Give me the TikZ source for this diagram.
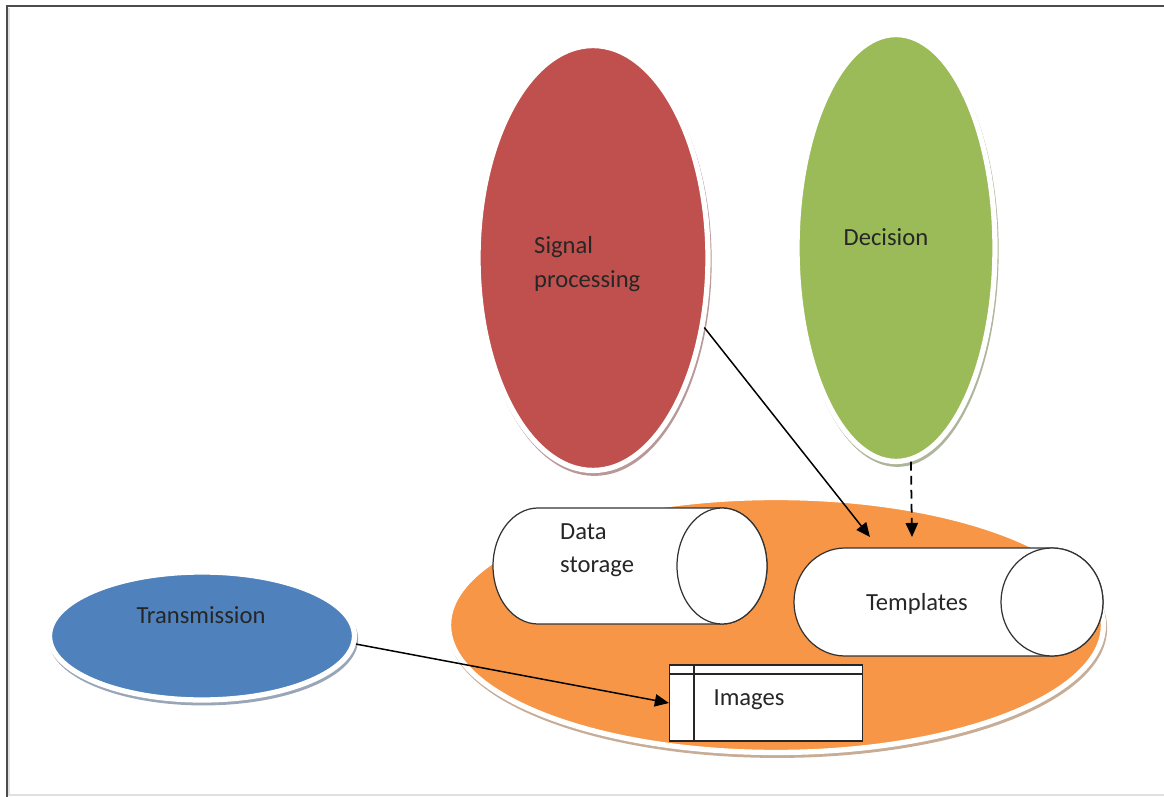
\documentclass[tikz,border=0pt]{standalone}
\usepackage{fontspec}
\setmainfont{Carlito}
\usepackage{tikz}
\usetikzlibrary{shapes.geometric,arrows.meta}
\definecolor{sigred}{HTML}{C0504D}
\definecolor{decgreen}{HTML}{9BBB59}
\definecolor{baseorange}{HTML}{F79646}
\definecolor{transblue}{HTML}{4F81BD}

\begin{document}
\begin{tikzpicture}[x=0.02cm,y=-0.02cm,
  blob/.style={ellipse,inner sep=0pt,fill=#1,draw=white,line width=3pt,
    preaction={draw=#1!40!gray!70,line width=2.6pt,transform canvas={shift={(0.8pt,-1.8pt)}}}},
  drum/.style={draw=black!80,fill=white,line width=0.7pt},
  lbl/.style={font=\fontsize{14}{19}\selectfont,text=black!85},
  link/.style={line width=0.85pt,-{Triangle[length=8pt,width=7pt]}}]
\useasboundingbox (0,0) rectangle (1164,797);
\draw[black!12,line width=1pt] (9,8) -- (9,795) -- (1164,795);
\draw[black!70,line width=1.6pt] (7,797) -- (7,6) -- (1164,6);
\node[blob=baseorange,minimum width=13.1cm,minimum height=5.1cm] (base) at (776,625) {};
\node[blob=sigred,minimum width=4.6cm,minimum height=8.5cm] (sig) at (593,258) {};
\node[blob=decgreen,minimum width=3.96cm,minimum height=8.54cm] (dec) at (896,248) {};
\node[blob=transblue,minimum width=6.1cm,minimum height=2.56cm] (tr) at (202,636) {};
\filldraw[drum] (538,508) -- (722,508) arc[start angle=-90,end angle=90,x radius=45,y radius=58]
  -- (538,624) arc[start angle=90,end angle=270,x radius=45,y radius=58] -- cycle;
\draw[drum] (722,566) ellipse [x radius=45,y radius=58];
\filldraw[drum] (845,548) -- (1052,548) arc[start angle=-90,end angle=90,x radius=51,y radius=54]
  -- (845,656) arc[start angle=90,end angle=270,x radius=51,y radius=54] -- cycle;
\draw[drum] (1052,602) ellipse [x radius=51,y radius=54];
\node[draw=black!85,fill=white,line width=0.7pt,minimum width=3.86cm,minimum height=1.52cm,inner sep=0pt] (img) at (766,703) {};
\draw[black!85,line width=0.7pt] (694,665) -- (694,741);
\draw[black!85,line width=0.7pt] (670,674) -- (863,674);
\node[lbl,align=left,anchor=west] (sigtxt) at (528,264) {Signal\\processing};
\node[lbl] (dectxt) at (886,237) {Decision};
\node[lbl] (trtxt) at (201,615) {Transmission};
\node[lbl,align=left,anchor=west] (storetxt) at (554,550) {Data\\storage};
\node[lbl] (tpltxt) at (917,604) {Templates};
\node[lbl] (imgtxt) at (749,700) {Images};
\coordinate (tA) at (870,537);
\coordinate (tB) at (912,537);
\draw[link] (sig.-32) -- (tA);
\draw[link,line width=1pt,dash pattern=on 5pt off 3pt] (dec.-86) -- (tB);
\draw[link] (tr.-3) -- (img.west);
\end{tikzpicture}
\end{document}
